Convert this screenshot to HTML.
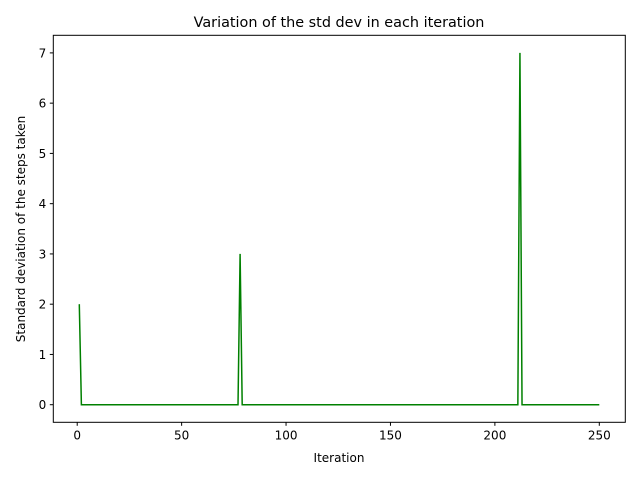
<!DOCTYPE html>
<html><head><meta charset="utf-8"><style>
body{margin:0;background:#fff;}
svg text{font-family:"DejaVu Sans","Liberation Sans",sans-serif;fill:#000;}
</style></head><body>
<svg id="chart" width="640" height="480" xmlns="http://www.w3.org/2000/svg">
<rect width="640" height="480" fill="#fff"/>
<text x="339" y="27" font-size="14.4" text-anchor="middle">Variation of the std dev in each iteration</text>
<g id="ticks"></g>
<path id="line" fill="none" stroke="#008000" stroke-width="1.5"/>
<rect x="53.3" y="35.3" width="572" height="387" fill="none" stroke="#000" stroke-width="1"/>
<text x="339" y="462" font-size="12" text-anchor="middle">Iteration</text>
<text transform="translate(25,229) rotate(-90)" font-size="12" text-anchor="middle">Standard deviation of the steps taken</text>
</svg>
<script>
const spikeIters = [1, 78, 212];
const spikeValues = [2, 3, 7];
const iterStart = 1;
const iterEnd = 250;
const xTicks = [0, 50, 100, 150, 200, 250];
const yTicks = [0, 1, 2, 3, 4, 5, 6, 7];

const L=53.3,R=625.3,T=35.3,B=422.3;
const xs=[],ys=[];
for(let i=iterStart;i<=iterEnd;i++){xs.push(i);const k=spikeIters.indexOf(i);ys.push(k>=0?spikeValues[k]:0);}
const xmin=Math.min(...xs),xmax=Math.max(...xs),xp=(xmax-xmin)*0.05;
const ymin=Math.min(...ys),ymax=Math.max(...ys),yp=(ymax-ymin)*0.05;
const X=v=>L+(v-(xmin-xp))/((xmax+xp)-(xmin-xp))*(R-L);
const Y=v=>B-(v-(ymin-yp))/((ymax+yp)-(ymin-yp))*(B-T);
document.getElementById('line').setAttribute('d',xs.map((x,i)=>(i?'L':'M')+X(x).toFixed(2)+','+Y(ys[i]).toFixed(2)).join(''));
const g=document.getElementById('ticks'),NS='http://www.w3.org/2000/svg';
xTicks.forEach(t=>{
 const l=document.createElementNS(NS,'line');
 l.setAttribute('x1',X(t));l.setAttribute('x2',X(t));l.setAttribute('y1',B);l.setAttribute('y2',B+3.5);l.setAttribute('stroke','#000');
 
 
 g.appendChild(l);
 const tx=document.createElementNS(NS,'text');
 tx.setAttribute('x',X(t));tx.setAttribute('y',B+17);tx.setAttribute('font-size','12');tx.setAttribute('text-anchor','middle');tx.textContent=t;
 
 
 g.appendChild(tx);
});
yTicks.forEach(t=>{
 const l=document.createElementNS(NS,'line');
 l.setAttribute('x1',L-3.5);l.setAttribute('x2',L);l.setAttribute('y1',Y(t));l.setAttribute('y2',Y(t));l.setAttribute('stroke','#000');
 
 
 g.appendChild(l);
 const tx=document.createElementNS(NS,'text');
 tx.setAttribute('x',L-7);tx.setAttribute('y',Y(t)+4.5);tx.setAttribute('font-size','12');tx.setAttribute('text-anchor','end');tx.textContent=t;
 
 
 g.appendChild(tx);
});
</script>
</body></html>
